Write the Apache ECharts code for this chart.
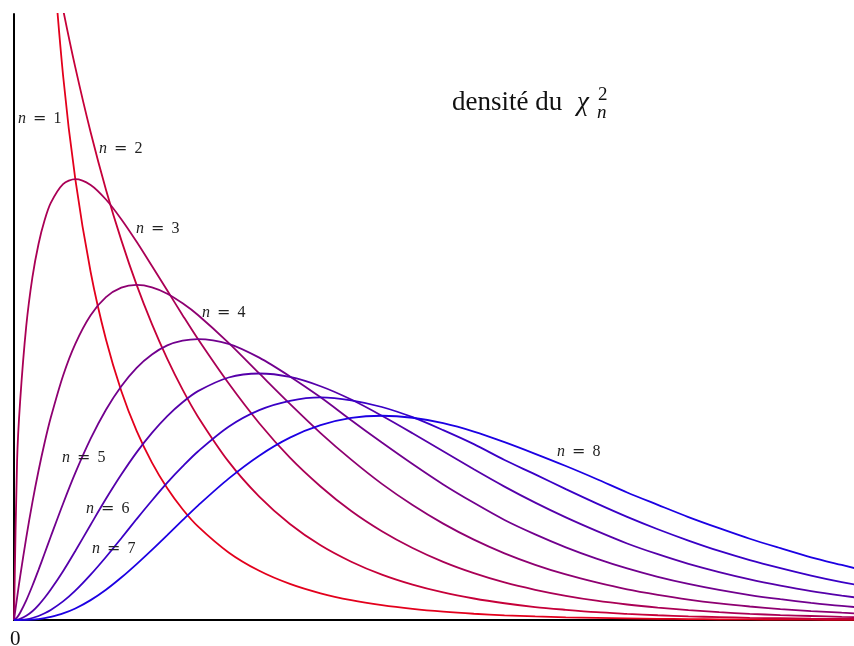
<!DOCTYPE html>
<html>
<head>
<meta charset="utf-8">
<script src="https://cdn.jsdelivr.net/npm/echarts@6/dist/echarts.min.js"></script>
<style>
  html, body { margin: 0; padding: 0; background: #fff; }
  #chart { width: 854px; height: 646px; }
</style>
</head>
<body>
<div id="chart"></div>
<script>
// Sample abscissae shared by every curve
const xs = [0, 0.05, 0.1, 0.2, 0.3, 0.4, 0.5, 0.6, 0.8, 1,
            1.25, 1.5, 1.75, 2, 2.25, 2.5, 2.75, 3, 3.5, 4,
            4.5, 5, 5.5, 6, 6.5, 7, 7.5, 8, 8.5, 9,
            9.5, 10, 10.5, 11, 11.5, 12, 12.5, 13, 13.5, 14];

// Chi-square densities for n = 1 … 8 at the abscissae above
const dens1 = [null, 1.740, 1.200, 0.807, 0.627, 0.516, 0.439, 0.3815, 0.299, 0.242,
               0.191, 0.1539, 0.1257, 0.1038, 0.0864, 0.0723, 0.0608, 0.0514, 0.0371, 0.0270,
               0.0198, 0.01465, 0.01087, 0.00811, 0.00607, 0.00455, 0.00342, 0.00258, 0.00195, 0.00148,
               0.00112, 0.00085, 0.00065, 0.00049, 0.00037, 0.00029, 0.00022, 0.00017, 0.00013, 0.0001];
const dens2 = [0.5, 0.4877, 0.4756, 0.4524, 0.4304, 0.4094, 0.3894, 0.3704, 0.3352, 0.3033,
               0.2677, 0.2362, 0.2085, 0.1839, 0.1624, 0.1433, 0.1264, 0.1116, 0.0869, 0.0677,
               0.0527, 0.0410, 0.0320, 0.0249, 0.0194, 0.0151, 0.0118, 0.0092, 0.0071, 0.0056,
               0.0043, 0.0034, 0.0026, 0.0020, 0.0016, 0.0012, 0.00097, 0.00075, 0.00059, 0.00046];
const dens3 = [0, 0.087, 0.120, 0.1614, 0.1881, 0.2064, 0.2195, 0.2289, 0.2392, 0.2420,
               0.2388, 0.2308, 0.2200, 0.2076, 0.1943, 0.1808, 0.1673, 0.1542, 0.1299, 0.1080,
               0.0891, 0.0733, 0.0598, 0.0487, 0.0395, 0.0319, 0.0257, 0.0206, 0.0166, 0.0133,
               0.0106, 0.0085, 0.0068, 0.0054, 0.0043, 0.0034, 0.0027, 0.0022, 0.0017, 0.0014];
const dens4 = [0, 0.0122, 0.0238, 0.0452, 0.0646, 0.0819, 0.0974, 0.1111, 0.1341, 0.1516,
               0.1673, 0.1772, 0.1824, 0.1839, 0.1826, 0.1791, 0.1738, 0.1674, 0.1521, 0.1353,
               0.1186, 0.1026, 0.0880, 0.0747, 0.0631, 0.0529, 0.0441, 0.0366, 0.0303, 0.0250,
               0.0206, 0.0168, 0.0138, 0.0112, 0.0091, 0.0074, 0.0060, 0.0049, 0.0040, 0.0032];
const dens5 = [0, 0.00145, 0.0040, 0.0108, 0.0188, 0.0275, 0.0366, 0.0458, 0.0638, 0.0807,
               0.0995, 0.1154, 0.1283, 0.1384, 0.1457, 0.1507, 0.1533, 0.1542, 0.1516, 0.1440,
               0.1337, 0.1222, 0.1096, 0.0974, 0.0856, 0.0744, 0.0643, 0.0549, 0.0470, 0.0399,
               0.0337, 0.0283, 0.0237, 0.0198, 0.0165, 0.0137, 0.0114, 0.0094, 0.0077, 0.0064];
const dens6 = [0, 0.00015, 0.0006, 0.0023, 0.0048, 0.0082, 0.0122, 0.0167, 0.0268, 0.0379,
               0.0523, 0.0665, 0.0798, 0.0920, 0.1027, 0.1119, 0.1195, 0.1256, 0.1331, 0.1353,
               0.1334, 0.1283, 0.1210, 0.1121, 0.1025, 0.0926, 0.0827, 0.0732, 0.0644, 0.0563,
               0.0489, 0.0420, 0.0361, 0.0308, 0.0263, 0.0223, 0.0189, 0.0159, 0.0134, 0.0112];
const dens7 = [0, 0.00001, 0.0001, 0.0004, 0.0011, 0.0022, 0.0037, 0.0055, 0.0102, 0.0161,
               0.0249, 0.0346, 0.0449, 0.0554, 0.0656, 0.0754, 0.0843, 0.0925, 0.1061, 0.1152,
               0.1203, 0.1222, 0.1206, 0.1169, 0.1113, 0.1042, 0.0965, 0.0878, 0.0799, 0.0718,
               0.0640, 0.0566, 0.0498, 0.0436, 0.0379, 0.0329, 0.0285, 0.0244, 0.0208, 0.0178];
const dens8 = [0, 0, 0.00001, 0.0001, 0.0002, 0.0005, 0.0010, 0.0017, 0.0036, 0.0063,
               0.0109, 0.0166, 0.0233, 0.0307, 0.0385, 0.0466, 0.0548, 0.0628, 0.0776, 0.0902,
               0.1001, 0.1069, 0.1109, 0.1121, 0.1110, 0.1080, 0.1034, 0.0976, 0.0912, 0.0845,
               0.0774, 0.0700, 0.0632, 0.0565, 0.0504, 0.0446, 0.0394, 0.0344, 0.0302, 0.0261];

const degrees = [1, 2, 3, 4, 5, 6, 7, 8];
const densities = [dens1, dens2, dens3, dens4, dens5, dens6, dens7, dens8];

// red → blue gradient across the degrees of freedom
const colors = ['#e3001c', '#c60039', '#aa0055', '#8e0071', '#71008e', '#5500aa', '#3900c6', '#1c00e3'];

// label anchor points (pixels: left edge, top of the digit) for each "n = k" tag
const labelPos = [[18, 112], [99, 142], [136, 222], [202, 306], [62, 451], [86, 502], [92, 542], [557, 445]];

const serif = '"Liberation Serif", "DejaVu Serif", serif';

const chart = echarts.init(document.getElementById('chart'), null, { renderer: 'canvas' });

const series = densities.map((d, i) => ({
  name: 'n = ' + degrees[i],
  type: 'line',
  data: xs.map((x, j) => [x, d[j]]),
  smooth: 0.3,
  showSymbol: false,
  clip: true,
  lineStyle: { color: colors[i], width: 1.8 },
  z: 3
}));

const labels = degrees.map((k, i) => ({
  type: 'text',
  left: labelPos[i][0],
  top: labelPos[i][1] - 1,
  style: {
    text: '{n|n}{eq|=}{d|' + k + '}',
    font: '16px ' + serif,
    fill: '#222',
    rich: {
      n: { fontStyle: 'italic', fontFamily: serif, fontSize: 16 },
      eq: { fontFamily: '"DejaVu Serif", serif', fontSize: 16, padding: [0, 7, 0, 7] },
      d: { fontFamily: serif, fontSize: 16 }
    }
  },
  z: 10
}));

chart.setOption({
  animation: false,
  backgroundColor: '#fff',
  grid: { left: 14, right: 0, top: 14, bottom: 26, containLabel: false },
  xAxis: {
    type: 'value', min: 0, max: 13.7,
    axisLine: { show: true, onZero: false, lineStyle: { color: '#000', width: 2 } },
    axisTick: { show: false }, axisLabel: { show: false }, splitLine: { show: false }
  },
  yAxis: {
    type: 'value', min: 0, max: 0.3326,
    axisLine: { show: true, onZero: false, lineStyle: { color: '#000', width: 2 } },
    axisTick: { show: false }, axisLabel: { show: false }, splitLine: { show: false }
  },
  series: series,
  graphic: labels.concat([
    {
      type: 'text', left: 452, top: 89,
      style: { text: 'densité du', font: '27px ' + serif, fill: '#111' },
      z: 10
    },
    {
      type: 'text', left: 577, top: 89,
      style: { text: 'χ', font: 'italic 27px ' + serif, fill: '#111' },
      z: 10
    },
    {
      type: 'text', left: 598, top: 86,
      style: { text: '2', font: '19px ' + serif, fill: '#111' },
      z: 10
    },
    {
      type: 'text', left: 597, top: 103,
      style: { text: 'n', font: 'italic 19px ' + serif, fill: '#111' },
      z: 10
    },
    {
      type: 'text', left: 10, top: 629,
      style: { text: '0', font: '21px ' + serif, fill: '#111' },
      z: 10
    }
  ])
});
</script>
</body>
</html>
